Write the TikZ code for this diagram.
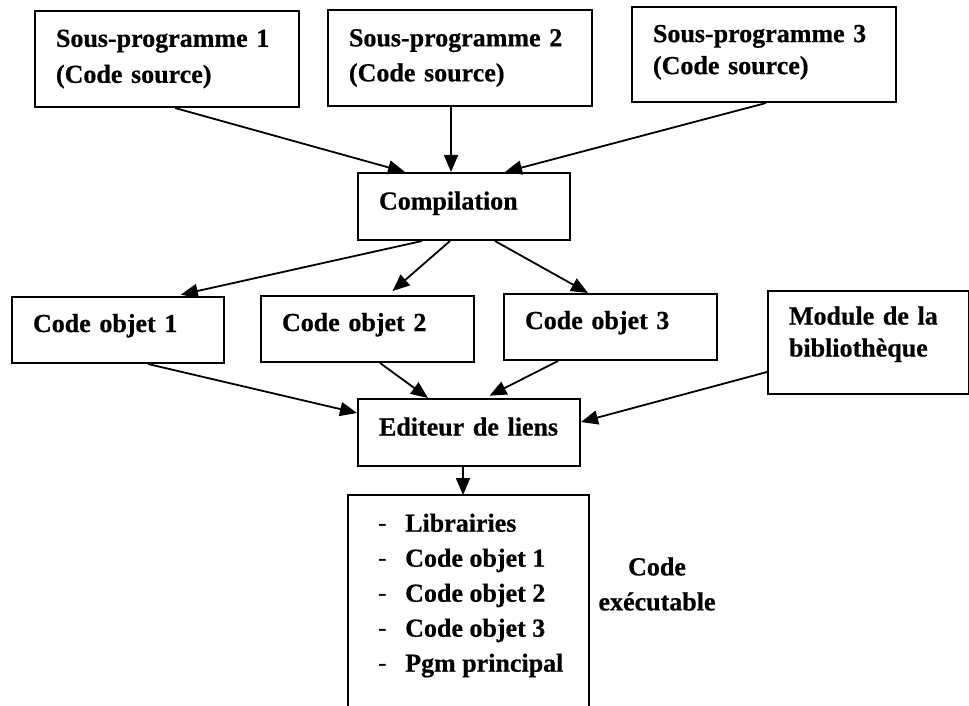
\documentclass[tikz,border=0pt]{standalone}
\usepackage{fontspec}
\setmainfont{Liberation Serif}[BoldFeatures={FakeBold=0.6}]
\usetikzlibrary{arrows.meta}
\begin{document}
\begin{tikzpicture}[x=1pt,y=-1pt,
  txt/.style={font=\fontsize{26}{35}\selectfont\bfseries},
  box/.style={draw, line width=2pt, txt, align=left, inner xsep=21pt, inner ysep=0pt, anchor=north west},
  arr/.style={line width=1.8pt, -{Triangle[length=17pt,width=14pt]}}]
\useasboundingbox (0,0) rectangle (969,706);
\node[box, text width=222pt, minimum height=96pt] (sp1) at (34,10) {Sous-programme 1\\[1pt](Code source)};
\node[box, text width=222pt, minimum height=96pt] (sp2) at (327,9) {Sous-programme 2\\(Code source)};
\node[box, text width=222pt, minimum height=95pt, text depth=42pt] (sp3) at (631,6) {Sous-programme 3\\[-3pt](Code source)};
\node[box, text width=170pt, minimum height=67pt, text depth=12pt] (comp) at (357,172) {Compilation};
\node[box, text width=170pt, minimum height=66pt, text depth=14pt] (co1) at (11,296) {Code objet 1};
\node[box, text width=171pt, minimum height=66pt, text depth=14pt] (co2) at (260,295) {Code objet 2};
\node[box, text width=171pt, minimum height=66pt, text depth=14pt] (co3) at (503,293) {Code objet 3};
\node[box, text width=159pt, minimum height=103pt, text depth=54pt] (mod) at (767,290) {Module de la\\[-3pt]bibliothèque};
\node[box, text width=180pt, minimum height=67pt, text depth=12pt] (edit) at (357,398) {Editeur de liens};
\node[anchor=north west, inner sep=0pt, minimum width=241pt, minimum height=220pt] (exe) at (348,495) {};
\draw[line width=2pt] (exe.south west) -- (exe.north west) -- (exe.north east) -- (exe.south east);
\node[txt, anchor=north west, inner sep=0pt] (lst) at (378,507)
  {\begin{tabular}{@{}l@{}l@{}}
   \makebox[27pt][l]{\mdseries -} & Librairies\\
   \makebox[27pt][l]{\mdseries -} & Code objet 1\\
   \makebox[27pt][l]{\mdseries -} & Code objet 2\\
   \makebox[27pt][l]{\mdseries -} & Code objet 3\\
   \makebox[27pt][l]{\mdseries -} & Pgm principal
   \end{tabular}};
\node[txt, align=center, inner sep=0pt] (ce) at (657,584) {Code\\exécutable};
% arrows
\draw[arr] ([xshift=141pt]sp1.south west) -- ([xshift=48pt]comp.north west);
\draw[arr] ([xshift=124pt]sp2.south west) -- ([xshift=94pt]comp.north west);
\draw[arr] ([xshift=135pt]sp3.south west) -- ([xshift=148pt]comp.north west);
\draw[arr, shorten >=6pt] ([xshift=65pt]comp.south west) -- ([xshift=164pt]co1.north west);
\draw[arr, shorten >=6pt] ([xshift=93pt]comp.south west) -- ([xshift=128pt]co2.north west);
\draw[arr] ([xshift=138pt]comp.south west) -- ([xshift=85pt]co3.north west);
\draw[arr] ([xshift=137pt]co1.south west) -- ([yshift=-15pt]edit.north west);
\draw[arr] ([xshift=120pt]co2.south west) -- ([xshift=71pt]edit.north west);
\draw[arr, shorten >=5pt] ([xshift=55pt]co3.south west) -- ([xshift=128pt]edit.north west);
\draw[arr] ([yshift=-82pt]mod.north west) -- ([yshift=-24pt]edit.north east);
\draw[arr] ([xshift=106pt]edit.south west) -- ([xshift=115pt]exe.north west);
\end{tikzpicture}
\end{document}
